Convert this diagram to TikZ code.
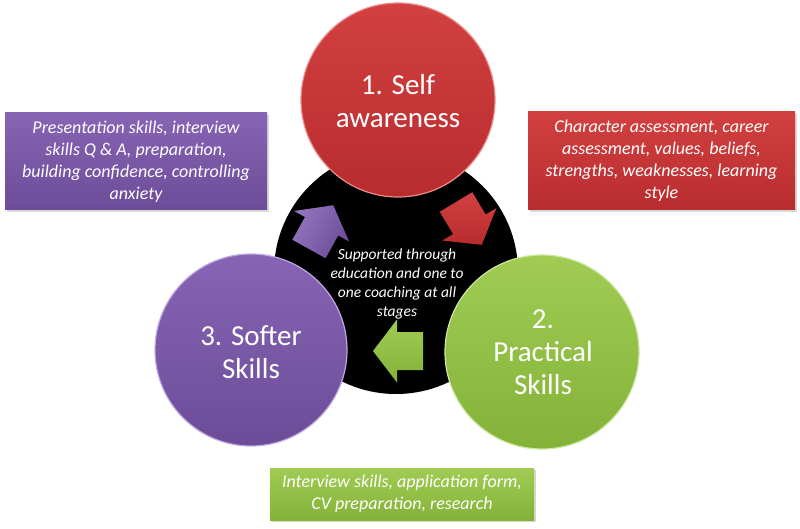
\documentclass[tikz,border=0pt]{standalone}
\usepackage{fontspec}
\setmainfont{Carlito}
\usetikzlibrary{shadows}
\definecolor{redTop}{RGB}{210,64,64}
\definecolor{redBot}{RGB}{184,44,46}
\definecolor{redRim}{RGB}{235,140,140}
\definecolor{purTop}{RGB}{135,100,180}
\definecolor{purBot}{RGB}{108,76,152}
\definecolor{purRim}{RGB}{190,170,225}
\definecolor{grnTop}{RGB}{160,204,84}
\definecolor{grnBot}{RGB}{132,178,56}
\definecolor{grnRim}{RGB}{205,230,160}
\begin{document}
\begin{tikzpicture}[x=1pt,y=1pt,
  bubble/.style={circle, minimum size=#1, inner sep=0pt, line width=1.2pt},
  bubbletext/.style={text=white, align=center, inner sep=0pt,
    font=\fontsize{29}{33}\selectfont},
  infobox/.style={rectangle, text=white, align=center, inner sep=0pt,
    font=\fontsize{18}{22}\selectfont\itshape,
    drop shadow={opacity=0.3, shadow xshift=2pt, shadow yshift=-2pt}},
  blockarrow/.style={line width=0.6pt},
]
\useasboundingbox (0,0) rectangle (800,528);
\fill[white] (0,0) rectangle (800,528);

% hub
\node[circle, fill=black, minimum size=244pt, inner sep=0pt] (hub) at (396,256) {};

% three circles
\node[bubble=194pt, top color=redTop, bottom color=redBot, draw=redRim] (self) at (398,428) {};
\node[bubble=192pt, top color=purTop, bottom color=purBot, draw=purRim] (soft) at (251,178) {};
\node[bubble=194pt, top color=grnTop, bottom color=grnBot, draw=grnRim] (prac) at (542,176) {};

\node[bubbletext] (selft) at (398,427) {1. Self\\awareness};
\node[bubbletext] (softt) at (251,176) {3. Softer\\Skills};
\node[bubbletext] (pract) at (543,176) {2.\\Practical\\Skills};

% hub text
\node[text=white, align=center, inner sep=0pt,
  font=\fontsize{15.5}{19}\selectfont\itshape] (hubt) at (397,244) {Supported through\\education and one to\\one coaching at all\\stages};

% block arrows
\begin{scope}[shift={(309,279)}, rotate=61]
  \fill[top color=purTop!90!white, bottom color=purBot, shading angle=61] (0,-19) -- (26,-19) -- (26,-31.5) -- (50,0) -- (26,31.5) -- (26,19) -- (0,19) -- cycle;
\end{scope}
\begin{scope}[shift={(456,326)}, rotate=-59]
  \fill[top color=redTop, bottom color=redBot] (0,-19) -- (26,-19) -- (26,-31.5) -- (50,0) -- (26,31.5) -- (26,19) -- (0,19) -- cycle;
\end{scope}
\begin{scope}[shift={(423,177)}, rotate=180]
  \fill[top color=grnTop, bottom color=grnBot] (0,-19) -- (26,-19) -- (26,-31.5) -- (50,0) -- (26,31.5) -- (26,19) -- (0,19) -- cycle;
\end{scope}

% info boxes
\node[infobox, minimum width=262pt, minimum height=97pt,
  top color=purTop, bottom color=purBot] (pbox) at (136,366.5)
  {Presentation skills, interview\\skills Q \& A, preparation,\\building confidence, controlling\\anxiety};
\node[infobox, minimum width=267pt, minimum height=98pt,
  top color=redTop, bottom color=redBot] (rbox) at (661.5,367)
  {Character assessment, career\\assessment, values, beliefs,\\strengths, weaknesses, learning\\style};
\node[infobox, minimum width=264pt, minimum height=52pt,
  top color=grnTop, bottom color=grnBot] (gbox) at (402,34)
  {Interview skills, application form,\\CV preparation, research};
\end{tikzpicture}
\end{document}
